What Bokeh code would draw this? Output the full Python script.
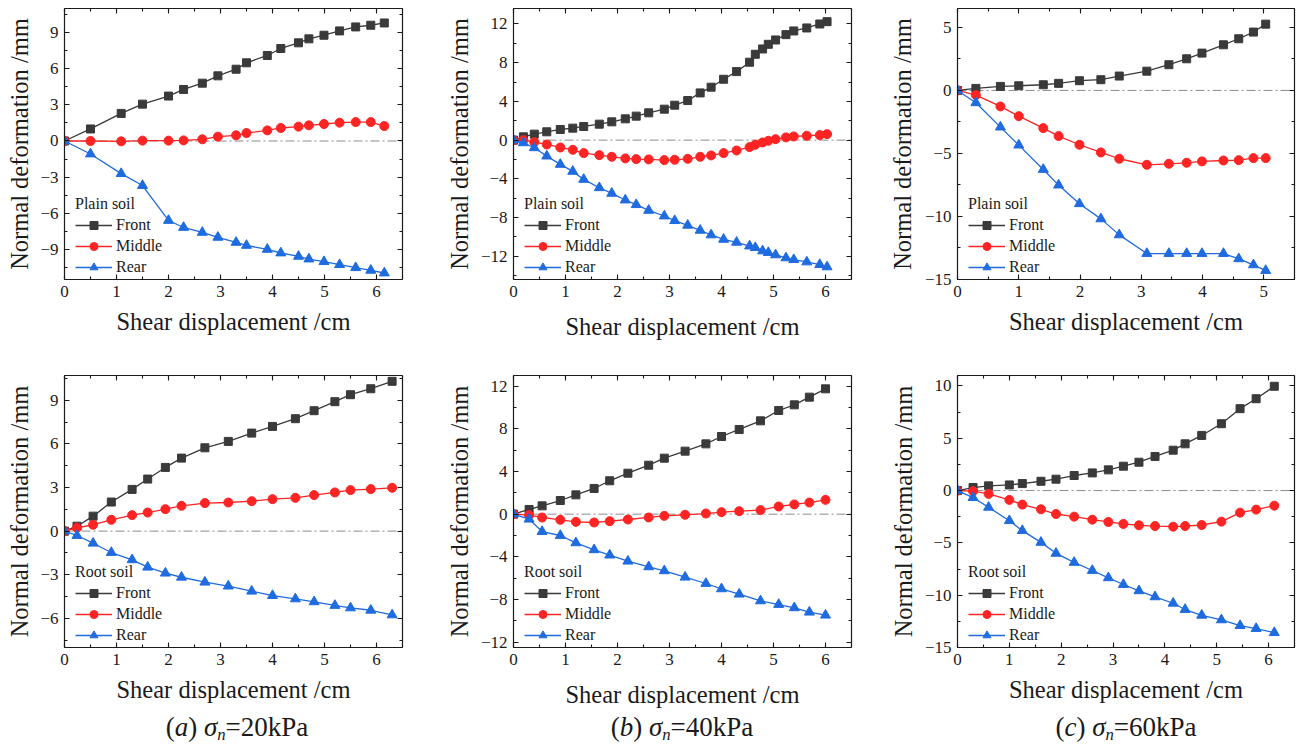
from bokeh.plotting import figure
from bokeh.layouts import column, row
from bokeh.models import (Range1d, LinearAxis, SingleIntervalTicker, Span, Legend,
                          LegendItem, Div, CustomJSTickFormatter)
from bokeh.embed import file_html
from bokeh.resources import INLINE

# ---------------- data ----------------
# (a) sigma_n = 20 kPa, plain soil
a_plain_x = [0, 0.5, 1.09, 1.5, 2.0, 2.29, 2.65, 2.95, 3.30, 3.50, 3.90, 4.16, 4.50, 4.70, 4.99, 5.29, 5.60, 5.89, 6.15]
a_plain_front = [0, 1.0, 2.29, 3.06, 3.73, 4.28, 4.80, 5.41, 5.96, 6.49, 7.10, 7.68, 8.15, 8.48, 8.78, 9.14, 9.47, 9.61, 9.80]
a_plain_middle = [0, 0.0, -0.03, 0.03, 0.03, 0.05, 0.14, 0.36, 0.47, 0.66, 0.88, 1.08, 1.19, 1.30, 1.41, 1.52, 1.57, 1.57, 1.24]
a_plain_rear = [0, -1.08, -2.71, -3.70, -6.60, -7.18, -7.59, -8.0, -8.42, -8.67, -9.0, -9.30, -9.58, -9.80, -10.02, -10.27, -10.52, -10.74, -10.96]

# (b) sigma_n = 40 kPa, plain soil
b_plain_x = [0, 0.19, 0.40, 0.64, 0.90, 1.14, 1.35, 1.65, 1.89, 2.15, 2.36, 2.60, 2.90, 3.10, 3.35, 3.59, 3.80, 4.04, 4.29, 4.54, 4.65, 4.79, 4.90, 5.04, 5.24, 5.39, 5.64, 5.89, 6.03]
b_plain_front = [0, 0.34, 0.62, 0.86, 1.10, 1.24, 1.41, 1.65, 1.89, 2.20, 2.48, 2.82, 3.20, 3.61, 4.09, 4.88, 5.47, 6.29, 7.08, 8.05, 8.87, 9.42, 9.90, 10.35, 10.90, 11.28, 11.59, 12.0, 12.24]
b_plain_middle = [0, 0, -0.21, -0.45, -0.76, -1.0, -1.34, -1.55, -1.72, -1.89, -1.96, -1.99, -2.06, -2.03, -1.93, -1.72, -1.58, -1.34, -1.07, -0.72, -0.48, -0.24, -0.07, 0.10, 0.28, 0.38, 0.45, 0.52, 0.62]
b_plain_rear = [0, -0.28, -0.79, -1.65, -2.51, -3.23, -4.06, -4.92, -5.50, -6.19, -6.67, -7.26, -7.84, -8.32, -8.80, -9.32, -9.80, -10.25, -10.56, -10.94, -11.11, -11.45, -11.62, -11.86, -12.17, -12.35, -12.59, -12.86, -13.10]

# (c) sigma_n = 60 kPa, plain soil
c_plain_x = [0, 0.30, 0.70, 1.0, 1.40, 1.65, 1.99, 2.34, 2.64, 3.09, 3.45, 3.74, 3.99, 4.34, 4.59, 4.83, 5.03]
c_plain_front = [0, 0.16, 0.32, 0.37, 0.45, 0.56, 0.77, 0.85, 1.14, 1.53, 2.04, 2.51, 2.96, 3.62, 4.10, 4.63, 5.26]
c_plain_middle = [0, -0.37, -1.27, -2.04, -2.99, -3.62, -4.31, -4.92, -5.42, -5.90, -5.82, -5.74, -5.63, -5.56, -5.53, -5.37, -5.37]
c_plain_rear = [0, -0.98, -2.91, -4.34, -6.27, -7.51, -8.99, -10.19, -11.46, -12.94, -12.94, -12.94, -12.94, -12.94, -13.36, -13.84, -14.29]

# (a) root soil
a_root_x = [0, 0.24, 0.55, 0.90, 1.30, 1.60, 1.94, 2.25, 2.70, 3.15, 3.60, 4.0, 4.44, 4.80, 5.20, 5.50, 5.89, 6.30]
a_root_front = [0, 0.34, 1.03, 2.0, 2.87, 3.58, 4.38, 5.02, 5.73, 6.17, 6.74, 7.20, 7.73, 8.28, 8.90, 9.38, 9.79, 10.30]
a_root_middle = [0, 0.23, 0.44, 0.78, 1.10, 1.28, 1.51, 1.74, 1.93, 1.97, 2.06, 2.20, 2.29, 2.48, 2.66, 2.82, 2.89, 2.98]
a_root_rear = [0, -0.30, -0.83, -1.47, -1.97, -2.48, -2.89, -3.17, -3.51, -3.78, -4.13, -4.43, -4.66, -4.86, -5.11, -5.28, -5.44, -5.76]

# (b) root soil
b_root_x = [0, 0.30, 0.55, 0.90, 1.20, 1.55, 1.85, 2.20, 2.60, 2.90, 3.30, 3.70, 4.0, 4.34, 4.75, 5.10, 5.40, 5.69, 6.0]
b_root_front = [0, 0.44, 0.78, 1.28, 1.81, 2.41, 3.13, 3.84, 4.59, 5.25, 5.91, 6.59, 7.28, 7.94, 8.75, 9.72, 10.25, 10.97, 11.75]
b_root_middle = [0, -0.09, -0.31, -0.53, -0.72, -0.78, -0.66, -0.50, -0.31, -0.16, -0.06, 0.06, 0.19, 0.28, 0.38, 0.72, 0.91, 1.09, 1.34]
b_root_rear = [0, -0.47, -1.63, -2.0, -2.69, -3.34, -3.84, -4.41, -4.94, -5.31, -5.91, -6.50, -7.0, -7.50, -8.13, -8.47, -8.78, -9.19, -9.47]

# (c) root soil
c_root_x = [0, 0.30, 0.60, 1.0, 1.25, 1.61, 1.90, 2.25, 2.60, 2.91, 3.20, 3.50, 3.81, 4.16, 4.39, 4.71, 5.09, 5.45, 5.76, 6.11]
c_root_front = [0, 0.29, 0.45, 0.54, 0.67, 0.89, 1.09, 1.44, 1.69, 1.98, 2.33, 2.71, 3.26, 3.86, 4.47, 5.27, 6.39, 7.83, 8.78, 9.97]
c_root_middle = [0, -0.06, -0.32, -0.89, -1.34, -1.79, -2.24, -2.49, -2.78, -3.0, -3.19, -3.32, -3.39, -3.45, -3.39, -3.29, -2.97, -2.11, -1.82, -1.44]
c_root_rear = [0, -0.67, -1.60, -2.88, -3.83, -4.95, -6.0, -6.87, -7.64, -8.34, -8.98, -9.58, -10.16, -10.77, -11.37, -11.92, -12.36, -12.91, -13.19, -13.58]

series_names = ["Front", "Middle", "Rear"]
captions = ["(a)", "(b)", "(c)"]
caption_stress = ["20kPa", "40kPa", "60kPa"]
x_label = "Shear displacement /cm"
y_label = "Normal deformation /mm"

# ---------------- style ----------------
FONT = "Liberation Serif"
INK = "#1a1a1a"
COLORS = ["#3a3a3a", "#ff2424", "#1f6be0"]
MARKERS = ["square", "circle", "triangle"]
MSIZE = [8, 9, 10]


def ticker(step):
    return SingleIntervalTicker(interval=step, num_minor_ticks=2)


def style_axis(ax, labels=True):
    ax.axis_line_color = INK
    ax.axis_line_width = 1.2
    ax.major_tick_line_color = INK
    ax.minor_tick_line_color = INK
    ax.major_tick_line_width = 1.1
    ax.minor_tick_line_width = 1.1
    ax.major_tick_in = 5
    ax.major_tick_out = 0
    ax.minor_tick_in = 3
    ax.minor_tick_out = 0
    ax.major_label_text_font = FONT
    ax.major_label_text_color = INK
    ax.major_label_text_font_size = "17px"
    ax.axis_label_text_font = FONT
    ax.axis_label_text_font_style = "normal"
    ax.axis_label_text_color = INK
    ax.axis_label_text_font_size = "24.5px"
    if not labels:
        ax.formatter = CustomJSTickFormatter(code="return ''")
        ax.major_label_standoff = 0


def panel(xs, front, middle, rear, xr, yr, ystep, title, width, height,
          bl, br, bt, bb, ylab_standoff, xlab_standoff):
    p = figure(width=width, height=height, output_backend="svg", toolbar_location=None,
               x_range=Range1d(*xr), y_range=Range1d(*yr),
               min_border_left=bl, min_border_right=br, min_border_top=bt, min_border_bottom=bb,
               x_axis_label=x_label, y_axis_label=y_label)
    p.xgrid.visible = False
    p.ygrid.visible = False
    p.outline_line_color = None
    p.background_fill_color = "white"
    p.border_fill_color = "white"

    p.xaxis[0].ticker = ticker(1)
    p.yaxis[0].ticker = ticker(ystep)
    style_axis(p.xaxis[0])
    style_axis(p.yaxis[0])
    p.xaxis[0].major_label_standoff = 6
    p.yaxis[0].major_label_standoff = 6
    p.xaxis[0].axis_label_standoff = xlab_standoff
    p.yaxis[0].axis_label_standoff = ylab_standoff

    top = LinearAxis(ticker=ticker(1))
    style_axis(top, labels=False)
    p.add_layout(top, "above")
    right = LinearAxis(ticker=ticker(ystep))
    style_axis(right, labels=False)
    p.add_layout(right, "right")

    p.add_layout(Span(location=0, dimension="width", line_color="#8c8c8c",
                      line_dash="9 3 2 3", line_width=1, level="underlay"))

    items = []
    for name, ys, col, mk, ms in zip(series_names, [front, middle, rear], COLORS, MARKERS, MSIZE):
        lr = p.line(xs, ys, line_color=col, line_width=1.3)
        sr = p.scatter(xs, ys, marker=mk, size=ms, fill_color=col, line_color=col)
        items.append(LegendItem(label=name, renderers=[lr, sr]))

    leg = Legend(items=items, title=title, location=(11, 2),
                 label_text_font=FONT, label_text_font_size="16px", label_text_color=INK,
                 title_text_font=FONT, title_text_font_size="16px", title_text_font_style="normal",
                 title_text_color=INK, title_standoff=2,
                 glyph_width=37, glyph_height=20, label_height=20, label_standoff=4,
                 spacing=1, padding=0, margin=0,
                 border_line_alpha=0, background_fill_alpha=0)
    p.add_layout(leg)
    return p


TOP_H = 346
BOT_H = 368
TOP_B = TOP_H - 8 - 271
BOT_B = BOT_H - 29 - 272

p1 = panel(a_plain_x, a_plain_front, a_plain_middle, a_plain_rear, (0, 6.5), (-11.5, 11.0), 3,
           "Plain soil", 440, TOP_H, 64, 38, 8, TOP_B, 4, 8)
p2 = panel(b_plain_x, b_plain_front, b_plain_middle, b_plain_rear, (0, 6.5), (-14.4, 13.6), 4,
           "Plain soil", 440, TOP_H, 73, 29, 8, TOP_B, 5, 13)
p3 = panel(c_plain_x, c_plain_front, c_plain_middle, c_plain_rear, (0, 5.5), (-15, 6.5), 5,
           "Plain soil", 426, TOP_H, 77, 12, 8, TOP_B, 6, 8)

p4 = panel(a_root_x, a_root_front, a_root_middle, a_root_rear, (0, 6.5), (-8.0, 10.7), 3,
           "Root soil", 440, BOT_H, 64, 38, 29, BOT_B, 4, 8)
p5 = panel(b_root_x, b_root_front, b_root_middle, b_root_rear, (0, 6.5), (-12.5, 13.0), 4,
           "Root soil", 440, BOT_H, 73, 29, 29, BOT_B, 5, 13)
p6 = panel(c_root_x, c_root_front, c_root_middle, c_root_rear, (0, 6.5), (-15, 11), 5,
           "Root soil", 426, BOT_H, 77, 12, 29, BOT_B, 5, 8)

CAP_H = 748 - TOP_H - BOT_H
centers = [237, 682, 1126]
spans = []
for cx, cap, st in zip(centers, captions, caption_stress):
    letter = cap[1]
    spans.append(
        f'<span style="position:absolute;left:{cx}px;top:0px;transform:translateX(-50%);white-space:nowrap;">'
        f'(<i>{letter}</i>) <i>&sigma;<sub style="font-size:0.62em;vertical-align:-0.25em;line-height:0;">n</sub></i>={st}</span>'
    )
cap_div = Div(text=(f'<div style="position:relative;width:1306px;height:{CAP_H}px;font-family:\'{FONT}\';'
                    f'font-size:27px;color:{INK};line-height:1.0;">' + "".join(spans) + '</div>'),
              width=1306, height=CAP_H, margin=0)

layout = column(row(p1, p2, p3, spacing=0), row(p4, p5, p6, spacing=0), cap_div, spacing=0)

with open("out.html", "w", encoding="utf-8") as f:
    f.write(file_html(layout, INLINE, title="Normal deformation"))
